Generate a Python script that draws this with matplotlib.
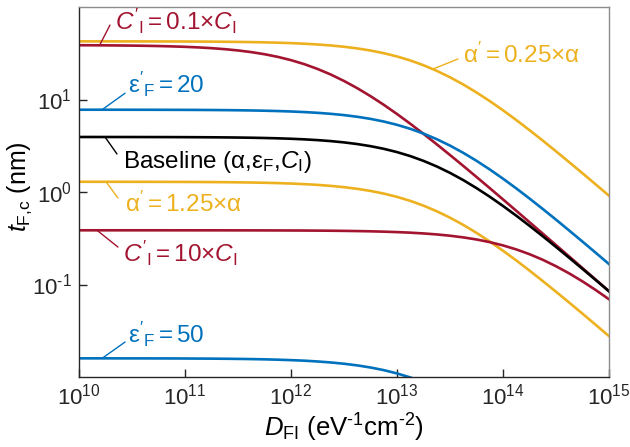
import matplotlib
matplotlib.use("Agg")
import matplotlib.pyplot as plt

plt.rcParams['font.family'] = ['Liberation Sans', 'DejaVu Sans']
plt.rcParams['mathtext.fontset'] = 'custom'
plt.rcParams['mathtext.rm'] = 'Liberation Sans'
plt.rcParams['mathtext.it'] = 'Liberation Sans:italic'
plt.rcParams['mathtext.sf'] = 'Liberation Sans'

# trap density grid (eighth decades, eV^-1 cm^-2)
D_FI = [1.0e10, 1.334e10, 1.778e10, 2.371e10, 3.162e10, 4.217e10, 5.623e10, 7.499e10,
        1.0e11, 1.334e11, 1.778e11, 2.371e11, 3.162e11, 4.217e11, 5.623e11, 7.499e11,
        1.0e12, 1.334e12, 1.778e12, 2.371e12, 3.162e12, 4.217e12, 5.623e12, 7.499e12,
        1.0e13, 1.334e13, 1.778e13, 2.371e13, 3.162e13, 4.217e13, 5.623e13, 7.499e13,
        1.0e14, 1.334e14, 1.778e14, 2.371e14, 3.162e14, 4.217e14, 5.623e14, 7.499e14,
        1.0e15]

# critical thickness t_F,c (nm)
t_baseline = [3.934, 3.934, 3.933, 3.932, 3.930, 3.928, 3.926, 3.923,
              3.918, 3.912, 3.904, 3.894, 3.880, 3.862, 3.837, 3.806,
              3.764, 3.710, 3.640, 3.551, 3.439, 3.300, 3.131, 2.931,
              2.701, 2.445, 2.171, 1.889, 1.610, 1.345, 1.102, 0.889,
              0.7065, 0.5547, 0.4312, 0.3325, 0.2547, 0.1941, 0.1474, 0.1116,
              0.0843]
t_eps_20 = [7.758, 7.757, 7.756, 7.754, 7.751, 7.747, 7.742, 7.735,
            7.727, 7.715, 7.699, 7.679, 7.651, 7.615, 7.567, 7.505,
            7.423, 7.316, 7.179, 7.003, 6.782, 6.507, 6.175, 5.780,
            5.327, 4.823, 4.282, 3.725, 3.174, 2.651, 2.174, 1.753,
            1.393, 1.094, 0.8503, 0.6557, 0.5023, 0.3828, 0.2907, 0.2201,
            0.1662]
t_eps_50 = [0.01591, 0.01591, 0.01591, 0.01590, 0.01590, 0.01589, 0.01588, 0.01587,
            0.01585, 0.01582, 0.01579, 0.01575, 0.01569, 0.01562, 0.01552, 0.01539,
            0.01522, 0.01501, 0.01472, 0.01436, 0.01391, 0.01335, 0.01267, 0.01186,
            0.01093, 0.00989, 0.00878, 0.00764, 0.00651, 0.00544, 0.00446, 0.00360,
            0.00286, 0.00224, 0.00174, 0.00134, 0.00103, 0.000785, 0.000596, 0.000451,
            0.000341]
t_alpha_025 = [42.54, 42.53, 42.53, 42.51, 42.50, 42.48, 42.45, 42.41,
               42.37, 42.30, 42.22, 42.10, 41.95, 41.75, 41.49, 41.15,
               40.70, 40.11, 39.36, 38.40, 37.19, 35.68, 33.86, 31.69,
               29.21, 26.44, 23.48, 20.42, 17.40, 14.54, 11.92, 9.612,
               7.640, 5.998, 4.662, 3.595, 2.754, 2.099, 1.594, 1.207,
               0.911]
t_alpha_125 = [1.2904, 1.2902, 1.2900, 1.2896, 1.2891, 1.2885, 1.2877, 1.2866,
               1.2851, 1.2832, 1.2806, 1.2772, 1.2726, 1.2666, 1.2586, 1.2482,
               1.2346, 1.2168, 1.1940, 1.1647, 1.1280, 1.0823, 1.0270, 0.9614,
               0.8860, 0.8021, 0.7122, 0.6195, 0.5279, 0.4410, 0.3616, 0.2916,
               0.2317, 0.1820, 0.1414, 0.1090, 0.08354, 0.06367, 0.04835, 0.03660,
               0.02764]
t_ci_01 = [38.64, 38.58, 38.51, 38.40, 38.27, 38.09, 37.85, 37.53,
           37.12, 36.59, 35.90, 35.02, 33.92, 32.55, 30.88, 28.91,
           26.64, 24.12, 21.41, 18.63, 15.87, 13.26, 10.87, 8.767,
           6.968, 5.471, 4.253, 3.279, 2.512, 1.915, 1.454, 1.101,
           0.8311, 0.6266, 0.4717, 0.3549, 0.2667, 0.2004, 0.1504, 0.1129,
           0.0847]
t_ci_10 = [0.3855, 0.3855, 0.3855, 0.3855, 0.3855, 0.3855, 0.3855, 0.3854,
           0.3853, 0.3853, 0.3852, 0.3851, 0.3849, 0.3848, 0.3845, 0.3842,
           0.3837, 0.3832, 0.3824, 0.3814, 0.3800, 0.3782, 0.3758, 0.3727,
           0.3686, 0.3634, 0.3565, 0.3478, 0.3368, 0.3232, 0.3067, 0.2871,
           0.2646, 0.2395, 0.2127, 0.1850, 0.1576, 0.1317, 0.1080, 0.08706,
           0.06920]

x_ticks = [1e10, 1e11, 1e12, 1e13, 1e14, 1e15]
x_ticklabels = ['10$^{10}$', '10$^{11}$', '10$^{12}$', '10$^{13}$', '10$^{14}$', '10$^{15}$']
y_ticks = [1e-1, 1e0, 1e1]
y_ticklabels = ['10$^{\u2010 1}$', '10$^{0}$', '10$^{1}$']

RED = '#A2142F'
BLUE = '#0072BD'
YELLOW = '#EDB120'

fig = plt.figure(figsize=(6.3, 4.47), dpi=100)
ax = fig.add_axes([0.1254, 0.1566, 0.8413, 0.8277])

lw = 1.9
ax.plot(D_FI, t_alpha_025, color=YELLOW, lw=lw)
ax.plot(D_FI, t_alpha_125, color=YELLOW, lw=lw)
ax.plot(D_FI, t_ci_01, color=RED, lw=lw)
ax.plot(D_FI, t_ci_10, color=RED, lw=lw)
ax.plot(D_FI, t_eps_20, color=BLUE, lw=lw)
ax.plot(D_FI, t_eps_50, color=BLUE, lw=lw)
ax.plot(D_FI, t_baseline, color='black', lw=lw)

ax.set_xscale('log')
ax.set_yscale('log')
ax.set_xlim(1e10, 1e15)
ax.set_ylim(1e-2, 1e2)
ax.set_xticks(x_ticks)
ax.set_xticklabels(x_ticklabels)
ax.set_yticks(y_ticks)
ax.set_yticklabels(y_ticklabels)
ax.minorticks_off()
ax.tick_params(direction='in', length=6, width=1, labelsize=16, pad=5, colors='#262626')

for s in ['left', 'bottom']:
    ax.spines[s].set_color('#262626')
    ax.spines[s].set_linewidth(1.0)
for s in ['top', 'right']:
    ax.spines[s].set_color('#8c8c8c')
    ax.spines[s].set_linewidth(1.0)

ax.set_xlabel('$D_\\mathrm{FI}$ (eV$^{\u20101}$cm$^{\u20102}$)', fontsize=18.5)
ax.set_ylabel(r'$t_\mathrm{F{,}c}$ (nm)', fontsize=18)
ax.xaxis.set_label_coords(0.5, -0.095)
ax.yaxis.set_label_coords(-0.085, 0.516)

# labels with leader lines: (text, colour, curve point, leader end, text position)
fs = 17.5
notes = [
    (r"$C'_\mathrm{I} = 0.1{\times}C_\mathrm{I}$", RED, (1.58e10, 39.5), (1.96e10, 63.8), (2.19e10, 56.4)),
    (r"$\mathrm{\varepsilon}'_\mathrm{F} = 20$", BLUE, (1.65e10, 7.76), (2.72e10, 11.7), (2.92e10, 11.7)),
    (r"Baseline ($\mathrm{\alpha}$,$\mathrm{\varepsilon}_\mathrm{F}$,$C_\mathrm{I}$)", 'black',
     (1.76e10, 3.93), (2.28e10, 2.58), (2.60e10, 1.815)),
    (r"$\mathrm{\alpha}' = 1.25{\times}\mathrm{\alpha}$", YELLOW, (1.80e10, 1.29), (2.33e10, 0.861), (2.72e10, 0.608)),
    (r"$C'_\mathrm{I} = 10{\times}C_\mathrm{I}$", RED, (1.48e10, 0.3855), (2.33e10, 0.254), (2.62e10, 0.176)),
    (r"$\mathrm{\varepsilon}'_\mathrm{F} = 50$", BLUE, (1.65e10, 0.0159), (2.72e10, 0.0239), (2.92e10, 0.02333)),
    (r"$\mathrm{\alpha}' = 0.25{\times}\mathrm{\alpha}$", YELLOW, (2.19e13, 21.4), (3.76e13, 27.4), (4.17e13, 24.6)),
]
for txt, col, pt, end, pos in notes:
    ax.annotate('', xy=pt, xytext=end,
                arrowprops=dict(arrowstyle='-', color=col, lw=1.0, shrinkA=0, shrinkB=0))
    ax.text(pos[0], pos[1], txt, color=col, fontsize=fs, ha='left', va='baseline')

fig.savefig('out.png', dpi=100)
